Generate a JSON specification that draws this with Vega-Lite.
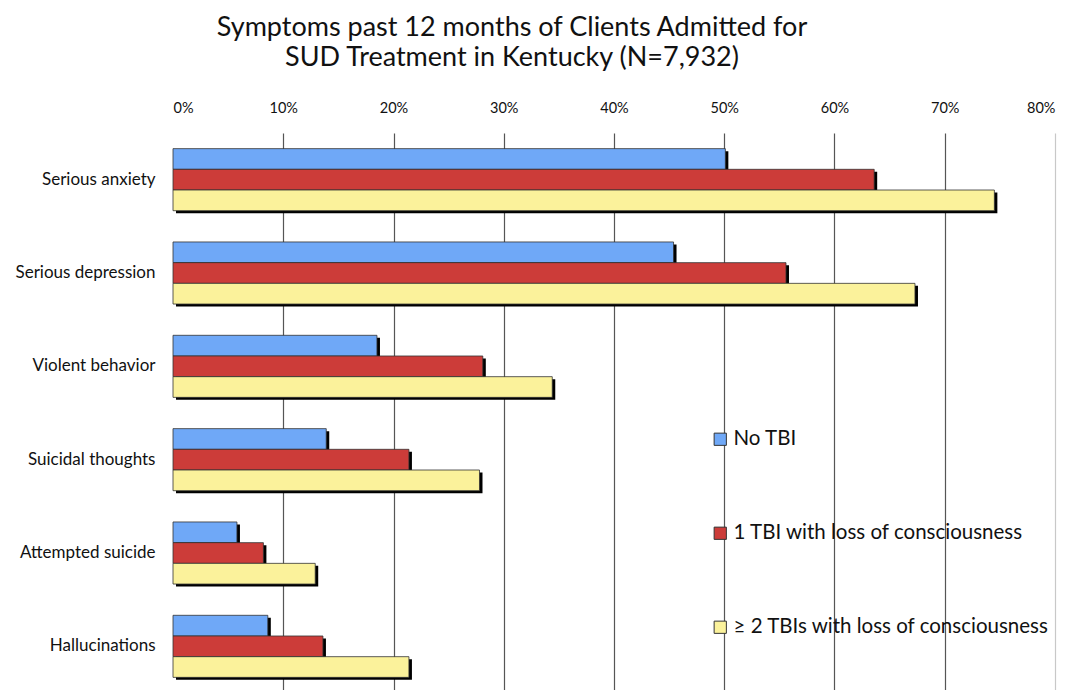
{
  "$schema": "https://vega.github.io/schema/vega-lite/v6.json",
  "autosize": {"type": "none"},
  "padding": {"left": 173, "top": 133, "right": 15, "bottom": 0},
  "width": 882,
  "height": 560,
  "background": "white",
  "config": {"view": {"stroke": null}, "font": "Lato"},
  "title": {
    "text": ["Symptoms past 12 months of Clients Admitted for", "SUD Treatment in Kentucky (N=7,932)"],
    "font": "Lato",
    "fontSize": 27,
    "fontWeight": "normal",
    "color": "#111",
    "anchor": "middle",
    "dx": -102,
    "lineHeight": 30,
    "offset": 28
  },
  "data": {
    "values": [
      {"symptom": "Serious anxiety", "group": "No TBI", "pct": 0.501},
      {"symptom": "Serious anxiety", "group": "1 TBI with loss of consciousness", "pct": 0.636},
      {"symptom": "Serious anxiety", "group": "≥ 2 TBIs with loss of consciousness", "pct": 0.745},
      {"symptom": "Serious depression", "group": "No TBI", "pct": 0.454},
      {"symptom": "Serious depression", "group": "1 TBI with loss of consciousness", "pct": 0.556},
      {"symptom": "Serious depression", "group": "≥ 2 TBIs with loss of consciousness", "pct": 0.673},
      {"symptom": "Violent behavior", "group": "No TBI", "pct": 0.185},
      {"symptom": "Violent behavior", "group": "1 TBI with loss of consciousness", "pct": 0.281},
      {"symptom": "Violent behavior", "group": "≥ 2 TBIs with loss of consciousness", "pct": 0.344},
      {"symptom": "Suicidal thoughts", "group": "No TBI", "pct": 0.139},
      {"symptom": "Suicidal thoughts", "group": "1 TBI with loss of consciousness", "pct": 0.214},
      {"symptom": "Suicidal thoughts", "group": "≥ 2 TBIs with loss of consciousness", "pct": 0.278},
      {"symptom": "Attempted suicide", "group": "No TBI", "pct": 0.058},
      {"symptom": "Attempted suicide", "group": "1 TBI with loss of consciousness", "pct": 0.082},
      {"symptom": "Attempted suicide", "group": "≥ 2 TBIs with loss of consciousness", "pct": 0.129},
      {"symptom": "Hallucinations", "group": "No TBI", "pct": 0.086},
      {"symptom": "Hallucinations", "group": "1 TBI with loss of consciousness", "pct": 0.136},
      {"symptom": "Hallucinations", "group": "≥ 2 TBIs with loss of consciousness", "pct": 0.214}
    ]
  },
  "encoding": {
    "y": {
      "field": "symptom",
      "type": "nominal",
      "sort": ["Serious anxiety", "Serious depression", "Violent behavior", "Suicidal thoughts", "Attempted suicide", "Hallucinations"],
      "scale": {"paddingInner": 0.335, "paddingOuter": 0.1675},
      "axis": {
        "title": null,
        "domain": false,
        "ticks": false,
        "labelFont": "Lato",
        "labelFontSize": 17,
        "labelColor": "#111",
        "labelPadding": 18
      }
    },
    "x": {
      "field": "pct",
      "type": "quantitative",
      "scale": {"domain": [0, 0.8], "nice": false},
      "axis": {
        "orient": "top",
        "title": null,
        "format": ".0%",
        "values": [0, 0.1, 0.2, 0.3, 0.4, 0.5, 0.6, 0.7, 0.8],
        "domain": false,
        "ticks": false,
        "labelFont": "Lato",
        "labelFontSize": 14.5,
        "labelColor": "#111",
        "labelPadding": 18,
        "grid": true,
        "gridColor": {"condition": {"test": "datum.value >= 0.79", "value": "#c8c8c8"}, "value": "#555555"},
        "gridOpacity": {"condition": {"test": "datum.value === 0", "value": 0}, "value": 1},
        "gridWidth": 1.2
      }
    }
  },
  "layer": [
    {
      "mark": {"type": "bar", "color": "#000", "xOffset": 3, "x2Offset": 3},
      "encoding": {
        "yOffset": {
          "field": "group",
          "type": "nominal",
          "sort": ["No TBI", "1 TBI with loss of consciousness", "≥ 2 TBIs with loss of consciousness"],
          "scale": {"paddingInner": 0, "paddingOuter": 0, "range": [2.5, 64.57]}
        }
      }
    },
    {
      "mark": {"type": "bar", "stroke": "#333", "strokeWidth": 0.8},
      "encoding": {
        "yOffset": {
          "field": "group",
          "type": "nominal",
          "sort": ["No TBI", "1 TBI with loss of consciousness", "≥ 2 TBIs with loss of consciousness"],
          "scale": {"paddingInner": 0, "paddingOuter": 0}
        },
        "color": {
          "field": "group",
          "type": "nominal",
          "sort": ["No TBI", "1 TBI with loss of consciousness", "≥ 2 TBIs with loss of consciousness"],
          "scale": {
            "domain": ["No TBI", "1 TBI with loss of consciousness", "≥ 2 TBIs with loss of consciousness"],
            "range": ["#6fa8f7", "#cc3c39", "#fbf29b"]
          },
          "legend": {
            "title": null,
            "orient": "none",
            "legendX": 537,
            "legendY": 296,
            "symbolType": "square",
            "symbolSize": 150,
            "symbolStrokeColor": "#333",
            "symbolStrokeWidth": 1,
            "symbolOpacity": 1,
            "labelFont": "Lato",
            "labelFontSize": 20.5,
            "labelLimit": 500,
            "labelColor": "#111",
            "labelOffset": 3,
            "rowPadding": 73
          }
        }
      }
    }
  ],
  "resolve": {"scale": {"yOffset": "independent"}}
}
